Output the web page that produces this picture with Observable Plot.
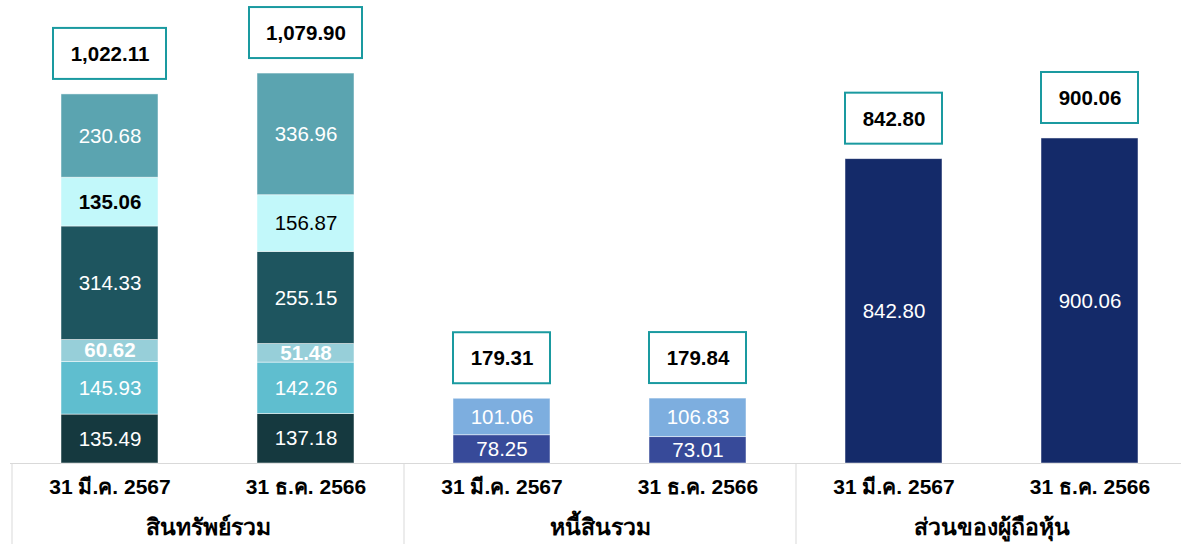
<!DOCTYPE html>
<html>
<head>
<meta charset="utf-8">
<script src="https://cdn.jsdelivr.net/npm/d3@7"></script>
<script src="https://cdn.jsdelivr.net/npm/@observablehq/plot@0.6"></script>
<style>
  html, body { margin: 0; padding: 0; background: #fff; overflow: hidden; }
  #chart svg { display: block; }
</style>
</head>
<body>
<div id="chart"></div>
<script>
// ---- data ----
const groups = ["สินทรัพย์รวม", "หนี้สินรวม", "ส่วนของผู้ถือหุ้น"];
const periods = ["31 มี.ค. 2567", "31 ธ.ค. 2566"];

const assets2567 = [135.49, 145.93, 60.62, 314.33, 135.06, 230.68];
const assets2566 = [137.18, 142.26, 51.48, 255.15, 156.87, 336.96];
const liab2567 = [78.25, 101.06];
const liab2566 = [73.01, 106.83];
const equity2567 = [842.80];
const equity2566 = [900.06];
const totals = [1022.11, 1079.90, 179.31, 179.84, 842.80, 900.06];

// ---- styles ----
const assetColors = ["#15393f", "#5fbecf", "#97cfd9", "#1e555f", "#c2f8fa", "#5ba4b0"];
const liabColors = ["#374a99", "#7daedf"];
const equityColors = ["#142a69"];
const assetText = ["white", "white", "white", "white", "black", "white"];
const boxStroke = "#1a9aa0";
const gridColor = "#d9d9d9";
const font = "'Liberation Sans', Arial, sans-serif";

// ---- build table ----
const key = (g, p) => g + "|" + p;
const series = [
  [groups[0], [assets2567, assets2566], assetColors],
  [groups[1], [liab2567, liab2566], liabColors],
  [groups[2], [equity2567, equity2566], equityColors]
];
const rows = [];
series.forEach(([g, vals, cols], gi) => {
  vals.forEach((arr, pi) => {
    arr.forEach((v, si) => {
      let fill = "white", bold = false;
      if (gi === 0) {
        fill = assetText[si];
        bold = si === 2 || (si === 4 && pi === 0);
      }
      rows.push({group: g, period: periods[pi], k: key(g, periods[pi]), seg: si, value: v, color: cols[si], textFill: fill, bold});
    });
  });
});
const keys = [];
groups.forEach(g => periods.forEach(p => keys.push(key(g, p))));
const totalRows = keys.map((k, i) => ({k, total: totals[i], wide: i < 2}));
const periodRows = keys.map(k => ({k, label: k.split("|")[1]}));
const groupRows = groups.map(g => ({g, k: key(g, periods[0])}));

const fmt = d3.format(",.2f");

const plot = Plot.plot({
  width: 1181,
  height: 544,
  marginTop: 0,
  marginBottom: 81,
  marginLeft: 0,
  marginRight: 0,
  style: {fontFamily: font, background: "white"},
  x: {type: "band", domain: keys, range: [10, 1189], paddingInner: 0.506, paddingOuter: 0.253, axis: null},
  y: {domain: [0, 1282.2], axis: null},
  marks: [
    Plot.ruleY([0], {stroke: gridColor, insetLeft: 10}),
    Plot.ruleX(groupRows, {x: "k", y1: 0, y2: 0, dx: -98, insetBottom: -81, stroke: gridColor}),
    Plot.barY(rows, {x: "k", y: "value", fill: "color", stroke: "white", strokeWidth: 0.8, strokeOpacity: 0.6, order: null}),
    Plot.text(rows, Plot.stackY({x: "k", y: "value", z: "k", text: d => d.bold ? "" : fmt(d.value), fill: "textFill", fontSize: 20.5})),
    Plot.text(rows, Plot.stackY({x: "k", y: "value", z: "k", text: d => d.bold ? fmt(d.value) : "", fill: "textFill", fontSize: 20.5, fontWeight: "bold"})),
    Plot.barY(totalRows.filter(d => d.wide), {x: "k", y1: "total", y2: "total", insetTop: -66, insetBottom: 15, insetLeft: -8, insetRight: -8, fill: "white", stroke: boxStroke, strokeWidth: 2}),
    Plot.barY(totalRows.filter(d => !d.wide), {x: "k", y1: "total", y2: "total", insetTop: -66, insetBottom: 15, insetLeft: 0, insetRight: 0, fill: "white", stroke: boxStroke, strokeWidth: 2}),
    Plot.text(totalRows, {x: "k", y: "total", dy: -40, text: d => fmt(d.total), fontSize: 20.5, fontWeight: "bold", fill: "black"}),
    Plot.text(periodRows, {x: "k", frameAnchor: "bottom", dy: 30, text: "label", fontSize: 21, fontWeight: "bold", fill: "black"}),
    Plot.text(groupRows, {x: "k", frameAnchor: "bottom", dx: 98, dy: 71, text: "g", fontSize: 23, fontWeight: "bold", fill: "black"})
  ]
});
document.getElementById("chart").appendChild(plot);
</script>
</body>
</html>
